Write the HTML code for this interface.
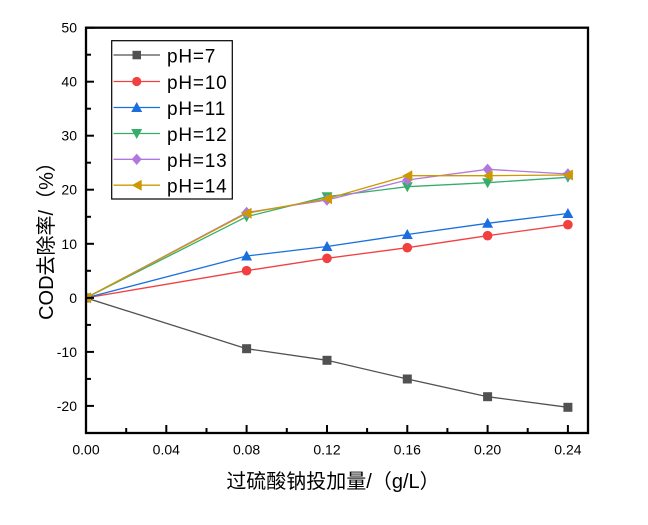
<!DOCTYPE html>
<html><head><meta charset="utf-8">
<style>
html,body{margin:0;padding:0;background:#fff;}
svg{display:block;}
text{font-family:"Liberation Sans","Noto Sans CJK SC",sans-serif;fill:#000;}
</style></head>
<body>
<svg width="648" height="525" viewBox="0 0 648 525" xmlns="http://www.w3.org/2000/svg">
<defs>
<clipPath id="pa"><rect x="86" y="27.7" width="502" height="405.3"/></clipPath>
</defs>
<rect width="648" height="525" fill="#fff"/>

<g clip-path="url(#pa)">
<!-- pH=7 -->
<polyline fill="none" stroke="#515151" stroke-width="1.3" points="86,297.9 246.6,348.7 327,360.3 407.3,379 487.6,396.7 567.9,407.3"/>
<g fill="#515151">
<rect x="81.5" y="293.4" width="9" height="9"/>
<rect x="242.1" y="344.2" width="9" height="9"/>
<rect x="322.5" y="355.8" width="9" height="9"/>
<rect x="402.8" y="374.5" width="9" height="9"/>
<rect x="483.1" y="392.2" width="9" height="9"/>
<rect x="563.4" y="402.8" width="9" height="9"/>
</g>
<!-- pH=10 -->
<polyline fill="none" stroke="#F14040" stroke-width="1.3" points="86,297.9 246.6,270.7 327,258.3 407.3,247.7 487.6,235.7 567.9,224.7"/>
<g fill="#F14040">
<circle cx="86" cy="297.9" r="4.8"/>
<circle cx="246.6" cy="270.7" r="4.8"/>
<circle cx="327" cy="258.3" r="4.8"/>
<circle cx="407.3" cy="247.7" r="4.8"/>
<circle cx="487.6" cy="235.7" r="4.8"/>
<circle cx="567.9" cy="224.7" r="4.8"/>
</g>
<!-- pH=11 -->
<polyline fill="none" stroke="#1A6FDF" stroke-width="1.3" points="86,297.9 246.6,256 327,246.5 407.3,234.5 487.6,223.3 567.9,213.5"/>
<g fill="#1A6FDF">
<polygon points="86,292.4 91.5,302.4 80.5,302.4"/>
<polygon points="246.6,250.5 252.1,260.5 241.1,260.5"/>
<polygon points="327,241 332.5,251 321.5,251"/>
<polygon points="407.3,229 412.8,239 401.8,239"/>
<polygon points="487.6,217.8 493.1,227.8 482.1,227.8"/>
<polygon points="567.9,208 573.4,218 562.4,218"/>
</g>
<!-- pH=12 -->
<polyline fill="none" stroke="#37AD6B" stroke-width="1.3" points="86,297.9 246.6,216.7 327,196.7 407.3,186.7 487.6,182.7 567.9,177.3"/>
<g fill="#37AD6B">
<polygon points="86,303.4 91.5,293.4 80.5,293.4"/>
<polygon points="246.6,222.2 252.1,212.2 241.1,212.2"/>
<polygon points="327,202.2 332.5,192.2 321.5,192.2"/>
<polygon points="407.3,192.2 412.8,182.2 401.8,182.2"/>
<polygon points="487.6,188.2 493.1,178.2 482.1,178.2"/>
<polygon points="567.9,182.8 573.4,172.8 562.4,172.8"/>
</g>
<!-- pH=13 -->
<polyline fill="none" stroke="#B177DE" stroke-width="1.3" points="86,297.9 246.6,212.5 327,200 407.3,180 487.6,169.3 567.9,174"/>
<g fill="#B177DE">
<polygon points="86,292.2 91,297.9 86,303.6 81,297.9"/>
<polygon points="246.6,206.8 251.6,212.5 246.6,218.2 241.6,212.5"/>
<polygon points="327,194.3 332,200 327,205.7 322,200"/>
<polygon points="407.3,174.3 412.3,180 407.3,185.7 402.3,180"/>
<polygon points="487.6,163.6 492.6,169.3 487.6,175 482.6,169.3"/>
<polygon points="567.9,168.3 572.9,174 567.9,179.7 562.9,174"/>
</g>
<!-- pH=14 -->
<polyline fill="none" stroke="#CC9900" stroke-width="1.3" points="86,297.9 246.6,213.3 327,198.8 407.3,175.7 487.6,175.7 567.9,175"/>
<g fill="#CC9900">
<polygon points="81,297.9 91,292.4 91,303.4"/>
<polygon points="241.6,213.3 251.6,207.8 251.6,218.8"/>
<polygon points="322,198.8 332,193.3 332,204.3"/>
<polygon points="402.3,175.7 412.3,170.2 412.3,181.2"/>
<polygon points="482.6,175.7 492.6,170.2 492.6,181.2"/>
<polygon points="562.9,175 572.9,169.5 572.9,180.5"/>
</g>
</g>

<!-- axes frame -->
<rect x="86" y="27.7" width="502" height="405.3" fill="none" stroke="#000" stroke-width="2.3"/>

<!-- y ticks (inward) -->
<g stroke="#000" stroke-width="2">
<line x1="86" y1="27.7" x2="94" y2="27.7"/>
<line x1="86" y1="81.7" x2="94" y2="81.7"/>
<line x1="86" y1="135.7" x2="94" y2="135.7"/>
<line x1="86" y1="189.7" x2="94" y2="189.7"/>
<line x1="86" y1="243.8" x2="94" y2="243.8"/>
<line x1="86" y1="297.9" x2="94" y2="297.9"/>
<line x1="86" y1="351.9" x2="94" y2="351.9"/>
<line x1="86" y1="405.9" x2="94" y2="405.9"/>
<line x1="86" y1="54.7" x2="91" y2="54.7"/>
<line x1="86" y1="108.7" x2="91" y2="108.7"/>
<line x1="86" y1="162.7" x2="91" y2="162.7"/>
<line x1="86" y1="216.8" x2="91" y2="216.8"/>
<line x1="86" y1="270.8" x2="91" y2="270.8"/>
<line x1="86" y1="324.9" x2="91" y2="324.9"/>
<line x1="86" y1="378.9" x2="91" y2="378.9"/>
</g>
<!-- x ticks (inward) -->
<g stroke="#000" stroke-width="2">
<line x1="166.3" y1="433" x2="166.3" y2="425"/>
<line x1="246.6" y1="433" x2="246.6" y2="425"/>
<line x1="327" y1="433" x2="327" y2="425"/>
<line x1="407.3" y1="433" x2="407.3" y2="425"/>
<line x1="487.6" y1="433" x2="487.6" y2="425"/>
<line x1="567.9" y1="433" x2="567.9" y2="425"/>
<line x1="126.2" y1="433" x2="126.2" y2="428"/>
<line x1="206.5" y1="433" x2="206.5" y2="428"/>
<line x1="286.8" y1="433" x2="286.8" y2="428"/>
<line x1="367.1" y1="433" x2="367.1" y2="428"/>
<line x1="447.4" y1="433" x2="447.4" y2="428"/>
<line x1="527.7" y1="433" x2="527.7" y2="428"/>
</g>

<!-- y tick labels -->
<g font-size="14" text-anchor="end">
<text x="77" y="32.7">50</text>
<text x="77" y="86.7">40</text>
<text x="77" y="140.7">30</text>
<text x="77" y="194.7">20</text>
<text x="77" y="248.8">10</text>
<text x="77" y="302.9">0</text>
<text x="77" y="356.9">-10</text>
<text x="77" y="410.9">-20</text>
</g>
<!-- x tick labels -->
<g font-size="14" text-anchor="middle">
<text x="86" y="454.5">0.00</text>
<text x="166.3" y="454.5">0.04</text>
<text x="246.6" y="454.5">0.08</text>
<text x="327" y="454.5">0.12</text>
<text x="407.3" y="454.5">0.16</text>
<text x="487.6" y="454.5">0.20</text>
<text x="567.9" y="454.5">0.24</text>
</g>

<!-- axis titles -->
<text x="333" y="488" font-size="20" text-anchor="middle">过硫酸钠投加量/（g/L）</text>
<text transform="translate(53,236) rotate(-90)" font-size="20" text-anchor="middle">COD去除率/（%）</text>

<!-- legend -->
<rect x="111.7" y="40.7" width="120.6" height="158.3" fill="#fff" stroke="#000" stroke-width="1.2"/>
<g stroke-width="1.3">
<line x1="113.5" y1="55" x2="160" y2="55" stroke="#515151"/>
<line x1="113.5" y1="81.5" x2="160" y2="81.5" stroke="#F14040"/>
<line x1="113.5" y1="107.5" x2="160" y2="107.5" stroke="#1A6FDF"/>
<line x1="113.5" y1="133.5" x2="160" y2="133.5" stroke="#37AD6B"/>
<line x1="113.5" y1="159.3" x2="160" y2="159.3" stroke="#B177DE"/>
<line x1="113.5" y1="185.2" x2="160" y2="185.2" stroke="#CC9900"/>
</g>
<rect x="132.5" y="50.8" width="8.5" height="8.5" fill="#515151"/>
<circle cx="136.7" cy="81.5" r="4.6" fill="#F14040"/>
<polygon points="136.7,102 142.2,112 131.2,112" fill="#1A6FDF"/>
<polygon points="136.7,139 142.2,129 131.2,129" fill="#37AD6B"/>
<polygon points="136.7,153.6 141.7,159.3 136.7,165 131.7,159.3" fill="#B177DE"/>
<polygon points="131.7,185.2 141.7,179.7 141.7,190.7" fill="#CC9900"/>
<g font-size="19" letter-spacing="0.8">
<text x="167" y="62.7">pH=7</text>
<text x="167" y="89">pH=10</text>
<text x="167" y="115">pH=11</text>
<text x="167" y="141">pH=12</text>
<text x="167" y="166.8">pH=13</text>
<text x="167" y="192.7">pH=14</text>
</g>
</svg>
</body></html>
